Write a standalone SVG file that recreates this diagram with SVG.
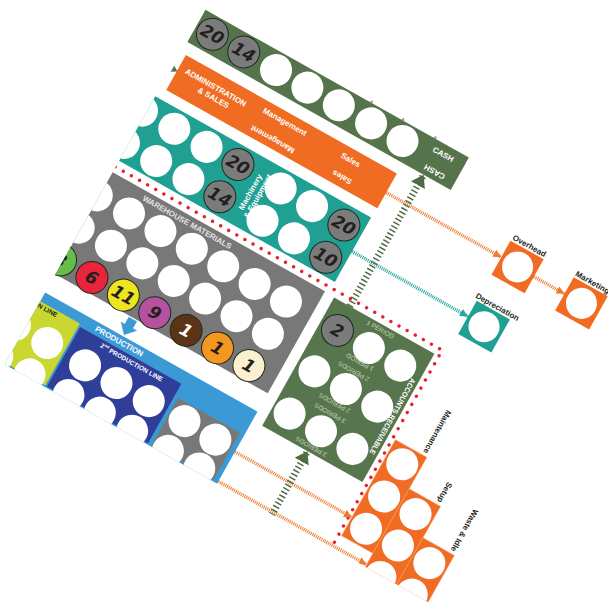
<svg xmlns="http://www.w3.org/2000/svg" width="608" height="606" viewBox="0 0 608 606">
<defs>
<style>
text{font-family:"Liberation Sans","DejaVu Sans",Arial,sans-serif;font-weight:bold;text-anchor:middle;dominant-baseline:central}
.w{fill:#fff}
.lt{fill:#fff;font-size:8px}
.dk{fill:#231f20;font-size:8px}
.num{font-family:"DejaVu Sans","Liberation Sans",sans-serif;font-size:17px;font-style:oblique;fill:#231f20}
.gc{fill:#7b7b7b;stroke:#1d2a20;stroke-width:1}
.per{fill:#c4d2b9;font-size:6.5px;font-weight:normal}
.orbox{fill:#ef6c22;stroke:#f6a06a;stroke-width:0.5}
.ho{stroke:#f07b2d;stroke-width:3.5;stroke-dasharray:1 1;fill:none}
.ht{stroke:#2aa79b;stroke-width:3.5;stroke-dasharray:1 1;fill:none}
.lad{stroke:#4f6c45;stroke-width:7;stroke-dasharray:1.5 2.6;fill:none}
</style>
<clipPath id="board"><rect x="182.5" y="-200" width="700" height="515.5"/></clipPath>
<marker id="aO" viewBox="0 0 10 10" refX="10" refY="5" markerWidth="8" markerHeight="8" markerUnits="userSpaceOnUse" orient="auto"><path d="M0,0 L10,5 L0,10 z" fill="#f07b2d"/></marker>
<marker id="aT" viewBox="0 0 10 10" refX="10" refY="5" markerWidth="8" markerHeight="8" markerUnits="userSpaceOnUse" orient="auto"><path d="M0,0 L10,5 L0,10 z" fill="#2aa79b"/></marker>
<marker id="aG" viewBox="0 0 12 16" refX="12" refY="8" markerWidth="12" markerHeight="16" markerUnits="userSpaceOnUse" orient="auto"><path d="M0,0 L12,8 L0,16 z" fill="#4f6c45"/></marker>
</defs>
<rect width="608" height="606" fill="#fff"/>
<g transform="rotate(29.3)">
<g clip-path="url(#board)">

<g id="cash">
<rect x="184" y="-92" width="302" height="37" fill="#56744c"/>
<path d="M372,-92 l2,-3 l2,3 z M408,-92 l2,-3 l2,3 z M445,-92 l2,-3 l2,3 z" fill="#9a9a9a"/>
<circle class="gc" cx="202" cy="-74" r="16"/><text class="num" x="202" y="-74">20</text>
<circle class="gc" cx="238" cy="-74" r="16"/><text class="num" x="238" y="-74">14</text>
<circle class="w" cx="275" cy="-74" r="16"/>
<circle class="w" cx="311" cy="-74" r="16"/>
<circle class="w" cx="347" cy="-74" r="16"/>
<circle class="w" cx="384" cy="-74" r="16"/>
<circle class="w" cx="420" cy="-74" r="16"/>
<text class="lt" x="462" y="-82">CASH</text>
<text class="lt" transform="rotate(180 463 -63)" x="463" y="-63">CASH</text>
</g>

<g id="admin-sales">
<path d="M184,-28 L190,-24.5 L184,-21 z" fill="#56744c"/>
<rect x="189" y="-43" width="242" height="40" fill="#ef6c22"/>
<text class="lt" x="231" y="-29">ADMINISTRATION</text>
<text class="lt" x="234" y="-19">&amp; SALES</text>
<text class="lt" x="308" y="-33">Management</text>
<text class="lt" transform="rotate(180 306 -12)" x="306" y="-12">Management</text>
<text class="lt" x="384" y="-32">Sales</text>
<text class="lt" transform="rotate(180 385 -13)" x="385" y="-13">Sales</text>
</g>

<g id="machinery">
<rect x="182" y="8" width="248" height="74" fill="#1fa093"/>
<circle class="w" cx="178" cy="27" r="16"/><circle class="w" cx="215" cy="27" r="16"/><circle class="w" cx="252" cy="27" r="16"/>
<circle class="w" cx="178" cy="64" r="16"/><circle class="w" cx="215" cy="64" r="16"/><circle class="w" cx="252" cy="64" r="16"/>
<circle class="gc" cx="288" cy="27" r="16"/><text class="num" x="288" y="27">20</text>
<circle class="gc" cx="288" cy="64" r="16"/><text class="num" x="288" y="64">14</text>
<text class="lt" transform="translate(312.5 45) rotate(-90)">Machinery</text>
<text class="lt" transform="translate(321 45) rotate(-90)">&amp; Equipment</text>
<circle class="w" cx="337" cy="27" r="16"/><circle class="w" cx="373" cy="27" r="16"/>
<circle class="w" cx="337" cy="64" r="16"/><circle class="w" cx="373" cy="64" r="16"/>
<circle class="gc" cx="410" cy="28" r="16"/><text class="num" x="410" y="28">20</text>
<circle class="gc" cx="410" cy="65" r="16"/><text class="num" x="410" y="65">10</text>
</g>

<g id="warehouse">
<rect x="182" y="95" width="244" height="117" fill="#787878"/>
<text x="272" y="102.5" style="fill:#e2e2e2;font-size:8px">WAREHOUSE MATERIALS</text>
<circle class="w" cx="180" cy="123" r="16"/><circle class="w" cx="217" cy="123" r="16"/><circle class="w" cx="253" cy="123" r="16"/><circle class="w" cx="289" cy="123" r="16"/><circle class="w" cx="325" cy="123" r="16"/><circle class="w" cx="361" cy="123" r="16"/><circle class="w" cx="397" cy="123" r="16"/>
<circle class="w" cx="180" cy="160" r="16"/><circle class="w" cx="217" cy="160" r="16"/><circle class="w" cx="253" cy="160" r="16"/><circle class="w" cx="289" cy="160" r="16"/><circle class="w" cx="325" cy="160" r="16"/><circle class="w" cx="361" cy="160" r="16"/><circle class="w" cx="397" cy="160" r="16"/>
<g stroke="#1d2a20" stroke-width="1">
<circle cx="180" cy="197" r="16" fill="#67bd4a"/>
<circle cx="216" cy="197" r="16" fill="#e8253a"/>
<circle cx="252" cy="197" r="16" fill="#eee61c"/>
<circle cx="288" cy="197" r="16" fill="#b5529f"/>
<circle cx="324" cy="197" r="16" fill="#5a3414"/>
<circle cx="360" cy="197" r="16" fill="#f4961f"/>
<circle cx="396" cy="197" r="16" fill="#fbf0cf"/>
</g>
<text class="num" x="180" y="197">3</text>
<text class="num" x="216" y="197">6</text>
<text class="num" x="252" y="197">11</text>
<text class="num" x="288" y="197">9</text>
<text class="num" x="324" y="197" style="fill:#fff">1</text>
<text class="num" x="360" y="197">1</text>
<text class="num" x="396" y="197">1</text>
</g>

<g id="production">
<path d="M267,213 h10 v8 h5 l-10,11 l-10,-11 h5 z" fill="#3b9ad5" stroke="#fff" stroke-width="0.6"/>
<rect x="181" y="233" width="245" height="83" fill="#3b9ad5"/>
<rect x="181" y="243" width="47" height="71" fill="#cbd731"/>
<circle class="w" cx="172" cy="276" r="16"/><circle class="w" cx="209" cy="276" r="16"/>
<circle class="w" cx="172" cy="312" r="16"/><circle class="w" cx="209" cy="312" r="16"/>
<text class="dk" x="204" y="247" style="font-size:6.5px;text-anchor:end">1ST PRODUCTION LINE</text>
<rect x="230" y="246" width="116" height="68" fill="#2f3e98"/>
<text class="lt" x="271" y="239.5">PRODUCTION</text>
<text class="lt" x="292" y="251" style="font-size:6.5px">2<tspan dy="-2" style="font-size:4px">nd</tspan><tspan dy="2"> PRODUCTION LINE</tspan></text>
<circle class="w" cx="253" cy="277" r="16"/><circle class="w" cx="289" cy="277" r="16"/><circle class="w" cx="326" cy="277" r="16"/>
<circle class="w" cx="253" cy="311" r="16"/><circle class="w" cx="289" cy="311" r="16"/><circle class="w" cx="326" cy="311" r="16"/>
<rect x="350" y="260" width="71" height="54" fill="#787878"/>
<circle class="w" cx="367" cy="277" r="16"/><circle class="w" cx="403" cy="278" r="16"/>
<circle class="w" cx="367" cy="311" r="16"/><circle class="w" cx="403" cy="311" r="16"/>
</g>

<g id="accounts-receivable">
<rect x="437" y="96" width="115" height="147" fill="#57764d"/>
<circle class="gc" cx="456" cy="123" r="16"/><text class="num" x="456" y="123">2</text>
<circle class="w" cx="492" cy="123" r="16"/><circle class="w" cx="528" cy="123" r="16"/>
<circle class="w" cx="456" cy="170" r="16"/><circle class="w" cx="492" cy="170" r="16"/><circle class="w" cx="528" cy="170" r="16"/>
<circle class="w" cx="455" cy="219" r="16"/><circle class="w" cx="491" cy="219" r="16"/><circle class="w" cx="527" cy="219" r="16"/>
<text class="per" x="493" y="101">1 PERIOD</text>
<text class="per" transform="rotate(180 491 140)" x="491" y="140">1 PERIOD</text>
<text class="per" transform="rotate(180 490 151)" x="490" y="151">2 PERIODS</text>
<text class="per" transform="rotate(180 489 188)" x="489" y="188">2 PERIODS</text>
<text class="per" transform="rotate(180 490 199)" x="490" y="199">3 PERIODS</text>
<text class="per" transform="rotate(180 490 237.5)" x="490" y="237.5">3 PERIODS</text>
<text class="lt" transform="translate(546 171) rotate(90)" textLength="86" lengthAdjust="spacingAndGlyphs" style="font-size:7.5px">ACCOUNTS RECEIVABLE</text>
</g>

<g id="overhead">
<rect x="563" y="-40" width="38" height="39" fill="#ef6c22"/>
<circle class="w" cx="582" cy="-20.5" r="15.5"/>
<text class="dk" x="582" y="-44.5">Overhead</text>
</g>
<g id="marketing">
<rect x="636" y="-39" width="39" height="38" fill="#ef6c22"/>
<circle class="w" cx="655.5" cy="-20" r="15.5"/>
<text class="dk" x="655" y="-43.5">Marketing</text>
</g>
<g id="depreciation">
<rect x="563" y="29" width="38" height="38" fill="#1fa093"/>
<circle class="w" cx="582" cy="48" r="15.5"/>
<text class="dk" x="584" y="24.5">Depreciation</text>
</g>

<g id="maintenance">
<rect class="orbox" x="560" y="190" width="36" height="110"/>
<circle class="w" cx="578" cy="208" r="16"/><circle class="w" cx="578" cy="245" r="16"/><circle class="w" cx="578" cy="282" r="16"/>
<text class="dk" transform="translate(590 187) rotate(90)" style="text-anchor:end;dominant-baseline:auto">Maintenance</text>
</g>
<g id="setup">
<rect class="orbox" x="596" y="226" width="36" height="92"/>
<circle class="w" cx="614" cy="245" r="16"/><circle class="w" cx="614" cy="281" r="16"/><circle class="w" cx="614" cy="317" r="16"/>
<text class="dk" transform="translate(626 223) rotate(90)" style="text-anchor:end;dominant-baseline:auto">Setup</text>
</g>
<g id="waste-idle">
<rect class="orbox" x="632" y="262" width="36" height="56"/>
<circle class="w" cx="650" cy="281" r="16"/><circle class="w" cx="650" cy="317" r="16"/>
<text class="dk" transform="translate(662 259) rotate(90)" style="text-anchor:end;dominant-baseline:auto">Waste &amp; Idle</text>
</g>

<g id="connectors">
<path d="M182,89 H557 V320" fill="none" stroke="#e8202a" stroke-width="3.4" stroke-dasharray="0 9.3" stroke-linecap="round"/>
<line class="ho" x1="431" y1="-21" x2="563" y2="-21" marker-end="url(#aO)"/>
<line class="ho" x1="601" y1="-20" x2="636" y2="-20" marker-end="url(#aO)"/>
<line class="ht" x1="430" y1="47" x2="563" y2="47" marker-end="url(#aT)"/>
<line class="ho" x1="426" y1="279" x2="560" y2="279" marker-end="url(#aO)"/>
<line class="ho" x1="426" y1="313" x2="596" y2="313" marker-end="url(#aO)"/>
<line class="lad" x1="455" y1="96" x2="455" y2="-55" marker-end="url(#aG)"/>
<line class="lad" x1="489" y1="320" x2="489" y2="243" marker-end="url(#aG)"/>
</g>

</g>
</g>
</svg>
